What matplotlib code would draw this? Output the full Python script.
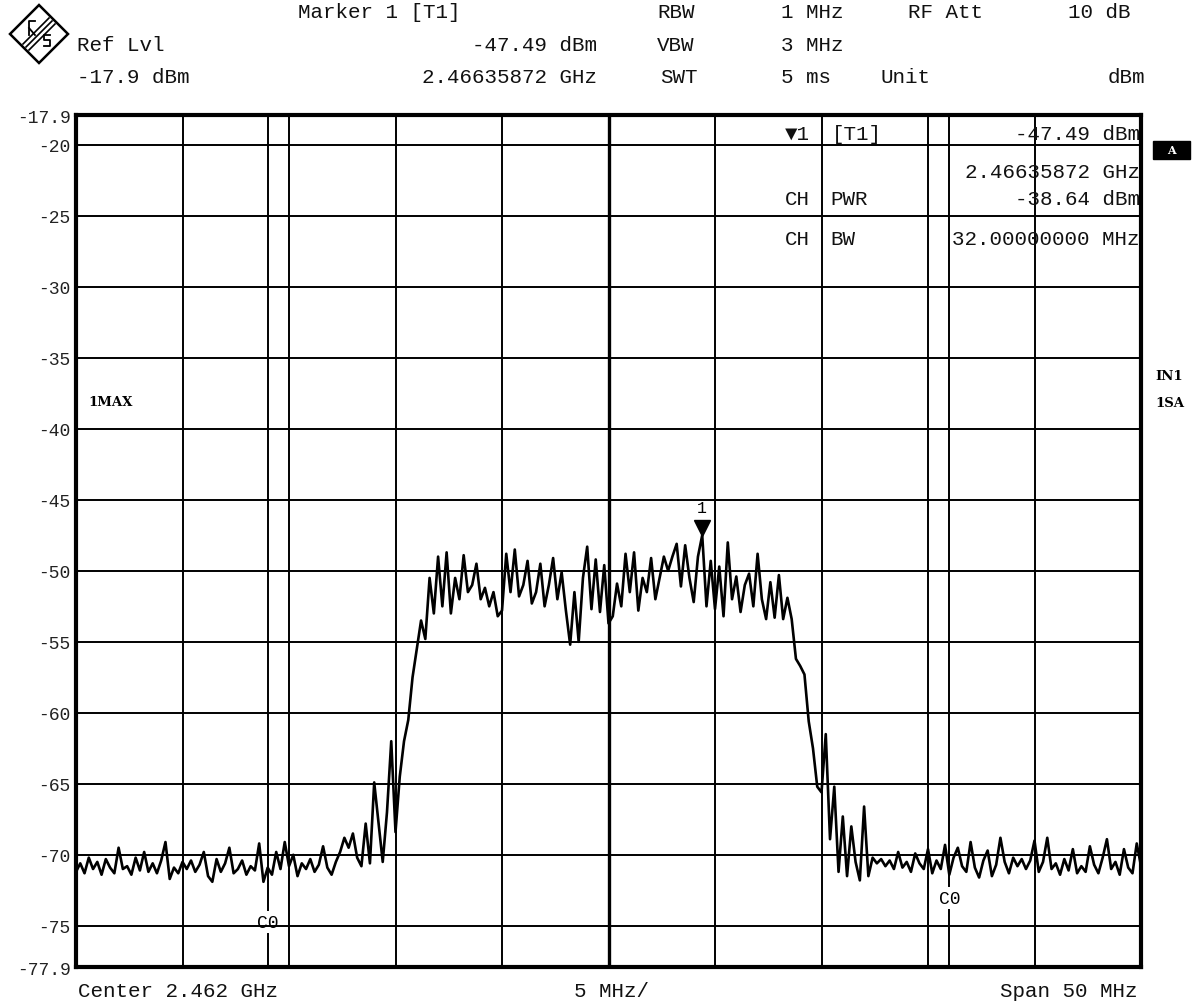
import numpy as np
import matplotlib
matplotlib.use("Agg")
import matplotlib.pyplot as plt
from matplotlib.patches import Polygon, Rectangle
import matplotlib.transforms as mtrans
from matplotlib.lines import Line2D

W, H = 1199, 1004
MONO = ['Liberation Mono', 'DejaVu Sans Mono', 'DejaVu Sans']

# ---------------- data ----------------
span_mhz = 50
ref_level = -17.9
bottom_level = -77.9
freq_grid = [-20, -15, -10, -5, 5, 10, 15, 20]
center_line = [0]
level_grid = [-20, -25, -30, -35, -40, -45, -50, -55, -60, -65, -70, -75]
ytick_values = [-17.9, -20, -25, -30, -35, -40, -45, -50, -55, -60, -65, -70, -75, -77.9]
ytick_labels = ['-17.9', '-20', '-25', '-30', '-35', '-40', '-45', '-50', '-55',
                '-60', '-65', '-70', '-75', '-77.9']
channel_edges = [-16, 16]
marker_index = 147
marker_level = -47.49

# trace in dBm, 0.2 MHz steps from -25 MHz to +25 MHz
trace_left_noise = [
    -71.2, -70.6, -71.3, -70.2, -71.0, -70.5, -71.4, -70.3, -70.9, -71.3,
    -69.5, -71.0, -70.8, -71.4, -70.2, -71.1, -69.8, -71.2, -70.6, -71.3,
    -70.4, -69.1, -71.7, -70.9, -71.3, -70.5, -71.0, -70.4, -71.2, -70.7,
    -69.8, -71.5, -71.9, -70.3, -71.2, -70.6, -69.5, -71.3, -71.0, -70.4,
    -71.4, -70.8, -71.1, -69.2, -71.9, -70.9, -71.4, -69.8, -71.0, -69.1,
    -70.8, -70.0, -71.5, -70.6, -71.0, -70.3, -71.2, -70.7, -69.4, -70.9,
    -71.4, -70.5, -69.8, -68.8, -69.5, -68.5, -70.2, -70.8, -67.8, -70.6,
    -64.9, -67.7, -70.5,
]
trace_rise = [-67.0, -62.0, -68.4, -64.5, -62.0, -60.5, -57.5, -55.5, -53.5, -54.8,
              -50.5, -53.0]
trace_plateau = [
    -49.0, -52.5, -48.7, -53.0, -50.5, -52.0, -48.9, -51.5, -51.0, -49.5,
    -52.0, -51.2, -52.5, -51.5, -53.2, -52.8, -48.8, -51.5, -48.5, -51.8,
    -51.0, -49.3, -52.3, -51.5, -49.5, -52.5, -51.0, -49.1, -52.0, -50.1,
    -52.8, -55.2, -51.5, -55.0, -50.5, -48.3, -52.7, -49.2, -52.9, -49.6,
    -53.7, -53.2, -50.9, -52.5, -48.8, -51.5, -48.7, -52.8, -50.5, -51.5,
    -49.1, -52.0, -50.5, -49.0, -50.0, -49.0, -48.1, -51.1, -48.2, -50.5,
    -52.2, -49.0, -47.49, -52.5, -49.3, -52.7, -49.7, -53.2, -48.0, -52.0,
    -50.4, -52.9, -51.0, -50.2, -52.5, -48.8, -52.0, -53.4, -50.8, -53.3,
    -50.3, -53.4, -51.9, -53.4,
]
trace_fall = [-56.2, -56.7, -57.3, -60.6, -62.5, -65.2, -65.6, -61.5, -68.9, -65.2,
              -71.2]
trace_right_noise = [
    -67.3, -71.5, -68.0, -70.5, -71.8, -66.6, -71.5, -70.2, -70.6, -70.3,
    -70.8, -70.4, -71.0, -69.8, -70.9, -70.5, -71.2, -69.9, -70.6, -71.0,
    -69.6, -71.3, -70.4, -71.0, -69.3, -71.4, -70.2, -69.5, -70.8, -71.2,
    -69.1, -70.9, -71.6, -70.4, -69.7, -71.5, -70.7, -68.8, -70.5, -71.3,
    -70.2, -70.8, -70.3, -71.0, -70.4, -69.0, -71.2, -70.5, -68.8, -71.0,
    -70.6, -71.4, -70.3, -71.1, -69.6, -71.3, -70.8, -71.2, -69.4, -70.7,
    -71.3, -70.2, -68.9, -71.0, -70.5, -71.4, -69.6, -70.9, -71.3, -69.2,
    -70.8,
]
trace_dbm = trace_left_noise + trace_rise + trace_plateau + trace_fall + trace_right_noise

header_rows = [
    (18, [("Marker 1 [T1]", 298, 'left'), ("RBW", 657, 'left'), ("1 MHz", 781, 'left'),
          ("RF Att", 908, 'left'), ("10 dB", 1130, 'right')]),
    (51, [("Ref Lvl", 77, 'left'), ("-47.49 dBm", 597, 'right'), ("VBW", 657, 'left'),
          ("3 MHz", 781, 'left')]),
    (83, [("-17.9 dBm", 77, 'left'), ("2.46635872 GHz", 597, 'right'), ("SWT", 660, 'left'),
          ("5 ms", 781, 'left'), ("Unit", 880, 'left'), ("dBm", 1145, 'right')]),
]
table_rows = [
    (140, [("\u25bc1", 785, 'left'), ("[T1]", 832, 'left'), ("-47.49 dBm", 1140, 'right')]),
    (178, [("2.46635872 GHz", 1140, 'right')]),
    (205, [("CH", 785, 'left'), ("PWR", 830, 'left'), ("-38.64 dBm", 1140, 'right')]),
    (245, [("CH", 785, 'left'), ("BW", 830, 'left'), ("32.00000000 MHz", 1140, 'right')]),
]
footer = [("Center 2.462 GHz", 78, 'left'), ("5 MHz/", 612, 'center'), ("Span 50 MHz", 1138, 'right')]

# ---------------- figure ----------------
fig = plt.figure(figsize=(W / 100, H / 100), dpi=100)
fig.patch.set_facecolor('white')


def fx(x):
    return x / W


def fy(y):
    return 1 - y / H


ax_l, ax_r, ax_t, ax_b = 76, 1141, 116, 968
ax = fig.add_axes([fx(ax_l), fy(ax_b), (ax_r - ax_l) / W, (ax_b - ax_t) / H])
ax.set_xlim(-span_mhz / 2, span_mhz / 2)
ax.set_ylim(bottom_level, ref_level)
ax.set_xticks([])
ax.set_yticks(ytick_values, ytick_labels)
ax.tick_params(axis='y', length=0, pad=4, labelsize=13, colors='#222222')
for lab in ax.get_yticklabels():
    lab.set_family(MONO)
for sp in ax.spines.values():
    sp.set_linewidth(3.0)
    sp.set_color('black')

for f in freq_grid:
    ax.axvline(f, color='black', lw=1.4, zorder=1)
for f in center_line:
    ax.axvline(f, color='black', lw=2.4, zorder=1)
for lv in level_grid:
    ax.axhline(lv, color='black', lw=1.4, zorder=1)

# channel edge lines with C0 labels
ax.plot([channel_edges[0]] * 2, [ref_level, -73.9], color='black', lw=1.4, zorder=1)
ax.plot([channel_edges[0]] * 2, [-75.6, bottom_level], color='black', lw=1.4, zorder=1)
ax.text(channel_edges[0], -74.8, "C0", ha='center', va='center', family=MONO, fontsize=13)
ax.plot([channel_edges[1]] * 2, [ref_level, -72.2], color='black', lw=1.4, zorder=1)
ax.plot([channel_edges[1]] * 2, [-73.9, bottom_level], color='black', lw=1.4, zorder=1)
ax.text(channel_edges[1], -73.05, "C0", ha='center', va='center', family=MONO, fontsize=13)

freqs = np.linspace(-span_mhz / 2, span_mhz / 2, len(trace_dbm))
ax.plot(freqs, trace_dbm, color='black', lw=1.9, zorder=3)

# marker
mf = freqs[marker_index]
tri_tr = mtrans.offset_copy(ax.transData, fig=fig, x=0, y=5, units='points')
ax.plot([mf], [marker_level], marker='v', ms=11, color='black', transform=tri_tr, zorder=4)
lab_tr = mtrans.offset_copy(ax.transData, fig=fig, x=0, y=20, units='points')
ax.text(mf, marker_level, "1", transform=lab_tr, ha='center', va='center',
        family=MONO, fontsize=12)

# header / table / footer text
for y, items in header_rows + table_rows:
    for s, x, ha in items:
        fig.text(fx(x), fy(y), s, ha=ha, va='baseline', family=MONO, fontsize=15, color='#111111')
for s, x, ha in footer:
    fig.text(fx(x), fy(997), s, ha=ha, va='baseline', family=MONO, fontsize=15, color='#111111')

# side labels
fig.text(fx(88), fy(403), "1MAX", ha='left', va='center', family='DejaVu Serif',
         weight='bold', fontsize=9.5)
fig.text(fx(1155), fy(376), "IN1", ha='left', va='center', family='DejaVu Serif',
         weight='bold', fontsize=9.5)
fig.text(fx(1155), fy(404), "1SA", ha='left', va='center', family='DejaVu Serif',
         weight='bold', fontsize=9.5)
fig.patches.append(Rectangle((fx(1153), fy(160)), 37 / W, 18 / H, transform=fig.transFigure,
                             facecolor='black', edgecolor='black'))
fig.text(fx(1171), fy(151), "A", ha='center', va='center', family='DejaVu Serif',
         weight='bold', fontsize=8, color='white')

# logo diamond
dia = [(39, 6), (68, 35), (39, 64), (10, 35)]
fig.patches.append(Polygon([(fx(x), fy(y)) for x, y in dia], closed=True,
                           transform=fig.transFigure, facecolor='white',
                           edgecolor='black', lw=1.8))
for d in (-3, 0, 3):
    fig.lines.append(Line2D([fx(52 + d), fx(26 + d)], [fy(22 + d), fy(48 + d)],
                            transform=fig.transFigure, color='black', lw=1.2))
# small R / S strokes
fig.lines.append(Line2D([fx(29), fx(29), fx(35)], [fy(36), fy(22), fy(22)],
                        transform=fig.transFigure, color='black', lw=1.3))
fig.lines.append(Line2D([fx(29), fx(35)], [fy(29), fy(36)],
                        transform=fig.transFigure, color='black', lw=1.3))
fig.lines.append(Line2D([fx(50), fx(44), fx(44), fx(50), fx(50), fx(44)],
                        [fy(36), fy(36), fy(41), fy(41), fy(47), fy(47)],
                        transform=fig.transFigure, color='black', lw=1.3))

fig.savefig("out.png", dpi=100, facecolor='white')
